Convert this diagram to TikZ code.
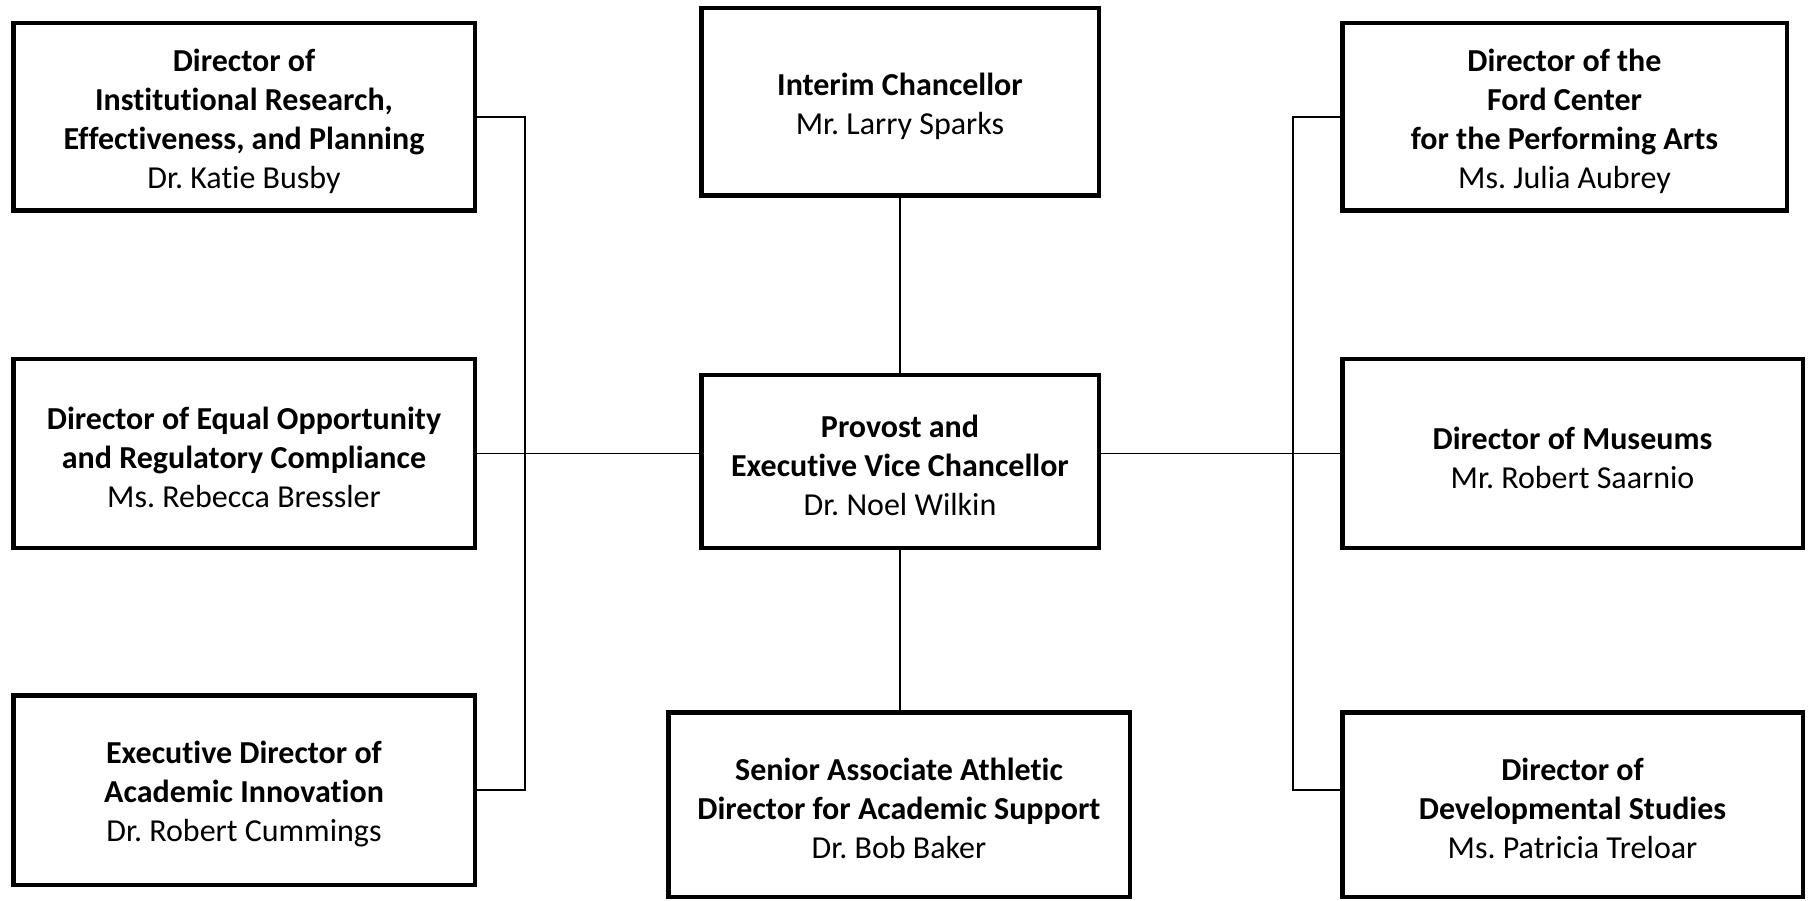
\documentclass[tikz,border=0pt]{standalone}
\usepackage{fontspec}
\setmainfont{Carlito}[Ligatures={NoCommon}]
\frenchspacing
\newcommand{\topstrut}{\rule{0pt}{31pt}}
\begin{document}
\begin{tikzpicture}[x=1pt,y=-1pt,
  orgbox/.style={draw=black,line width=4.5pt,fill=white,outer sep=0pt,inner sep=0pt,
    align=center,font=\fontsize{32}{39}\selectfont},
  link/.style={draw=black,line width=1.8pt}]
\useasboundingbox (0,0) rectangle (1808,901);
\node[orgbox,minimum width=461.5,minimum height=187.5] (tl) at (244,117)
  {\topstrut\textbf{Director of}\\\textbf{Institutional Research,}\\\textbf{Effectiveness, and Planning}\\Dr. Katie Busby};
\node[orgbox,minimum width=397.5,minimum height=187.5] (ic) at (900,102)
  {\topstrut\textbf{Interim Chancellor}\\Mr. Larry Sparks};
\node[orgbox,minimum width=444.5,minimum height=187.5] (tr) at (1564.5,117)
  {\topstrut\textbf{Director of the}\\\textbf{Ford Center}\\\textbf{for the Performing Arts}\\Ms. Julia Aubrey};
\node[orgbox,minimum width=461.5,minimum height=188.5] (ml) at (244,453.5)
  {\topstrut\textbf{Director of Equal Opportunity}\\\textbf{and Regulatory Compliance}\\Ms. Rebecca Bressler};
\node[orgbox,minimum width=397.5,minimum height=172.5] (pv) at (900,461.5)
  {\topstrut\textbf{Provost and}\\\textbf{Executive Vice Chancellor}\\Dr. Noel Wilkin};
\node[orgbox,minimum width=460.5,minimum height=188.5] (mr) at (1572.5,453.5)
  {\topstrut\textbf{Director of Museums}\\Mr. Robert Saarnio};
\node[orgbox,minimum width=461.5,minimum height=189.5] (bl) at (244,790)
  {\topstrut\textbf{Executive Director of}\\\textbf{Academic Innovation}\\Dr. Robert Cummings};
\node[orgbox,minimum width=461.5,minimum height=184.5] (bc) at (899,804.5)
  {\topstrut\textbf{Senior Associate Athletic}\\\textbf{Director for Academic Support}\\Dr. Bob Baker};
\node[orgbox,minimum width=460.5,minimum height=184.5] (br) at (1572.5,804.5)
  {\topstrut\textbf{Director of}\\\textbf{Developmental Studies}\\Ms. Patricia Treloar};
\coordinate (busL) at (525,0);
\coordinate (busR) at (1293,0);
\coordinate (brj) at (br.west |- bl.east);
\draw[link] (ic.south) -- (pv.north -| ic.south);
\draw[link] (pv.south) -- (pv.south |- bc.north);
\draw[link] (ml.east) -- (ml.east -| pv.west);
\draw[link] (mr.west) -- (mr.west -| pv.east);
\draw[link] (tl.east) -- (tl.east -| busL) |- (bl.east);
\draw[link] (tr.west) -- (tr.west -| busR) |- (brj);
\end{tikzpicture}
\end{document}
